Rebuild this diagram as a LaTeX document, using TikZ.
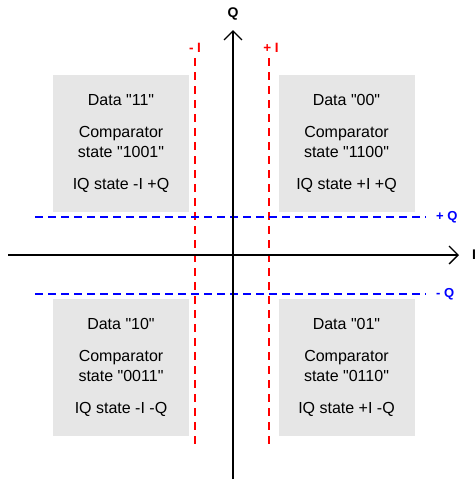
\documentclass[tikz,border=0pt]{standalone}
\usepackage{fontspec}
\setmainfont{Liberation Sans}
\usetikzlibrary{arrows.meta,positioning}
\definecolor{levelred}{RGB}{255,0,0}
\definecolor{levelblue}{RGB}{0,0,255}
\definecolor{quadgray}{RGB}{230,230,230}
\newcommand{\qt}[1]{\textquotedbl#1\textquotedbl}
\tikzset{
  quad/.style  ={rectangle, fill=quadgray, minimum width=136pt, minimum height=137pt,
                 align=center, inner sep=0pt, font=\fontsize{16}{20}\selectfont},
  axis/.style  ={-{Straight Barb[length=9pt,width=18pt]}, line width=1.4pt, draw=black},
  ilevel/.style={draw=levelred, line width=2.4pt, dash pattern=on 8pt off 6pt},
  qlevel/.style={draw=levelblue, line width=2.4pt, dash pattern=on 8pt off 5pt},
  rlbl/.style  ={text=levelred, font=\fontsize{13.5}{15}\selectfont\bfseries, inner sep=1pt},
  blbl/.style  ={text=levelblue, font=\fontsize{13}{15}\selectfont\bfseries, inner sep=1pt},
  albl/.style  ={font=\fontsize{14}{16}\selectfont\bfseries, inner sep=1pt}
}
\begin{document}
\begin{tikzpicture}[x=1pt, y=-1pt]
\useasboundingbox (0,0) rectangle (476,483);
% quadrants
\node[quad] (q11) at (121,143.5) {Data \qt{11}\\[12pt]Comparator\\state \qt{1001}\\[12pt]IQ state -I +Q};
\node[quad] (q00) at (346.5,143.5) {Data \qt{00}\\[12pt]Comparator\\state \qt{1100}\\[12pt]IQ state +I +Q};
\node[quad] (q10) at (121,367.5) {Data \qt{10}\\[12pt]Comparator\\state \qt{0011}\\[12pt]IQ state -I -Q};
\node[quad] (q01) at (346.5,367.5) {Data \qt{01}\\[12pt]Comparator\\state \qt{0110}\\[12pt]IQ state +I -Q};

% decision levels
\coordinate (mi top) at (195,58);  \coordinate (mi bot) at (195,446);
\coordinate (pi top) at (269,58);  \coordinate (pi bot) at (269,446);
\coordinate (pq lft) at (35,217);  \coordinate (pq rgt) at (426,217);
\coordinate (mq lft) at (35,294);  \coordinate (mq rgt) at (426,294);
\draw[ilevel] (mi top) -- (mi bot);
\draw[ilevel] (pi top) -- (pi bot);
\draw[qlevel] (pq lft) -- (pq rgt);
\draw[qlevel] (mq lft) -- (mq rgt);
\node[rlbl, above=4pt of mi top] (mi) {- I};
\node[rlbl, above=4pt of pi top, xshift=2pt] (pi) {+ I};
\node[blbl, right=9pt of pq rgt] (pq) {+ Q};
\node[blbl, right=9pt of mq rgt] (mq) {- Q};

% axes
\coordinate (i start) at (8,255);   \coordinate (i end) at (459,255);
\coordinate (q start) at (233,479); \coordinate (q end) at (233,30);
\draw[axis] (i start) -- (i end);
\draw[axis] (q start) -- (q end);
\node[albl, right=12pt of i end] (ilab) {I};
\node[albl, above=9pt of q end] (qlab) {Q};
\end{tikzpicture}
\end{document}
